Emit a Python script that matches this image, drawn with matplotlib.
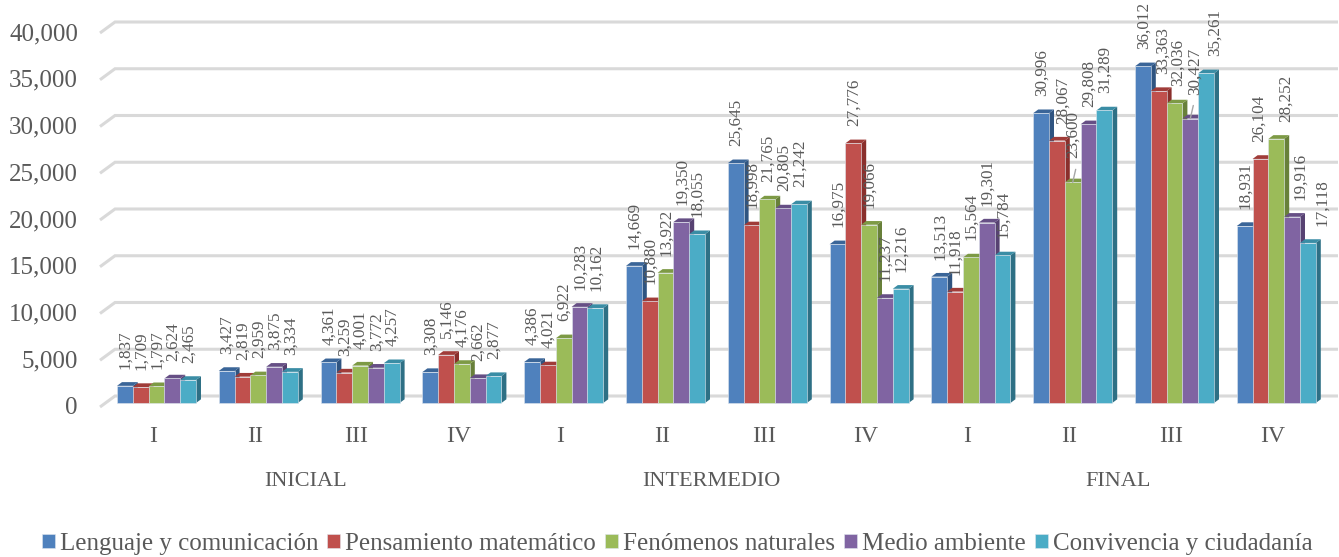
import matplotlib
matplotlib.use('Agg')
import matplotlib.pyplot as plt

plt.rcParams['font.family'] = ['Liberation Serif', 'DejaVu Serif']

series_names = ['Lenguaje y comunicación', 'Pensamiento matemático', 'Fenómenos naturales',
                'Medio ambiente', 'Convivencia y ciudadanía']
lenguaje = [1837, 3427, 4361, 3308, 4386, 14669, 25645, 16975, 13513, 30996, 36012, 18931]
pensamiento = [1709, 2819, 3259, 5146, 4021, 10880, 18998, 27776, 11918, 28067, 33363, 26104]
fenomenos = [1797, 2959, 4001, 4176, 6922, 13922, 21765, 19066, 15564, 23600, 32036, 28252]
medio = [2624, 3875, 3772, 2662, 10283, 19350, 20805, 11237, 19301, 29808, 30427, 19916]
convivencia = [2465, 3334, 4257, 2877, 10162, 18055, 21242, 12216, 15784, 31289, 35261, 17118]
quarters = ['I', 'II', 'III', 'IV'] * 3
levels = ['INICIAL', 'INTERMEDIO', 'FINAL']
yticks = [0, 5000, 10000, 15000, 20000, 25000, 30000, 35000, 40000]

all_series = [lenguaje, pensamiento, fenomenos, medio, convivencia]
front = ['#4f81bd', '#c0504d', '#9bbb59', '#8064a2', '#4bacc6']
side = ['#2f5480', '#8a2f2c', '#68803a', '#574272', '#2e7085']
top = ['#3a6598', '#a03c39', '#7d9a45', '#664f85', '#3a8da5']
text_color = '#595959'

# pixel layout of the picture, all axes coordinates derive from this
W, H = 1339, 557
pitch = 101.8       # px between groups
x0 = 156.5          # px of first group centre
base = 403          # px of value 0 at bar front
k = 0.00935         # px per unit of value
bar_w = 15.8 / pitch
dx, dy = 5 / pitch, 3.7 / k     # bar depth


def px_x(p):
    return (p - x0) / pitch


def px_y(p):
    return (base - p) / k


fig = plt.figure(figsize=(W / 100, H / 100), dpi=100)
ax = fig.add_axes([0, 0, 1, 1])
ax.set_xlim(px_x(0), px_x(W))
ax.set_ylim(px_y(H), px_y(0))
ax.axis('off')

# back wall gridlines and the slanted floor/wall ticks
for v in yticks:
    ax.plot([px_x(100), px_x(115), px_x(1338)],
            [v - 4 / k, v + 7 / k, v + 7 / k],
            color='#d9d9d9', lw=2.2, solid_capstyle='butt', solid_joinstyle='miter', zorder=1)
    ax.text(px_x(78), v - 5 / k, f'{v:,}', ha='right', va='center', fontsize=18, color=text_color)

handles = []
for j, vals in enumerate(all_series):
    xs = [i + (j - 2) * bar_w for i in range(12)]
    z = 3 + j * 0.1
    b = ax.bar(xs, vals, width=bar_w, color=front[j], edgecolor='#dfe6ee', linewidth=0.4,
               zorder=z + 0.05, label=series_names[j])
    handles.append(b)
    for x, v in zip(xs, vals):
        r = x + bar_w / 2
        l = x - bar_w / 2
        ax.fill([r, r + dx, r + dx, r], [0, dy, v + dy, v], color=side[j], lw=0, zorder=z)
        ax.fill([l, l + dx, r + dx, r], [v, v + dy, v + dy, v], color=top[j], lw=0, zorder=z)

# data labels sit about 17 px above each bar, two have leader lines,
# some were moved sideways in the original so they would not collide
leader_points = {(2, 9), (3, 10)}
nudges = {(1, 9): 6, (1, 10): 4, (2, 10): 3, (3, 10): 4, (4, 10): 9, (1, 11): -2,
          (2, 11): 10, (3, 11): 8, (4, 11): 14}
for j, vals in enumerate(all_series):
    for i, v in enumerate(vals):
        x = i + (j - 2) * bar_w
        gap = 17
        if (j, i) in leader_points:
            gap = 24
            ax.annotate('', xy=(x, v), xytext=(3, 13), textcoords='offset pixels',
                        arrowprops=dict(arrowstyle='-', color='#a6a6a6', lw=1, shrinkA=0, shrinkB=0),
                        zorder=8)
        ax.annotate(f'{v:,}', xy=(x, v), xytext=(nudges.get((j, i), 0.5), gap), textcoords='offset pixels',
                    rotation=90, ha='center', va='bottom', fontsize=12.3,
                    color=text_color, zorder=9)

for i, q in enumerate(quarters):
    ax.text(i - 3.5 / pitch, px_y(436), q, ha='center', va='center', fontsize=17, color=text_color)

for c, name in zip([1.46, 5.45, 9.45], levels):
    ax.text(c, px_y(482), name, ha='center', va='center', fontsize=16, color=text_color)

leg = fig.legend(handles=handles, loc='center', bbox_to_anchor=(677 / W, 1 - 544 / H), ncol=5,
                 frameon=False, fontsize=18, labelcolor=text_color, handlelength=0.52,
                 handleheight=0.52, handletextpad=0.2, columnspacing=0.36, borderpad=0)

fig.savefig('out.png', dpi=100)
